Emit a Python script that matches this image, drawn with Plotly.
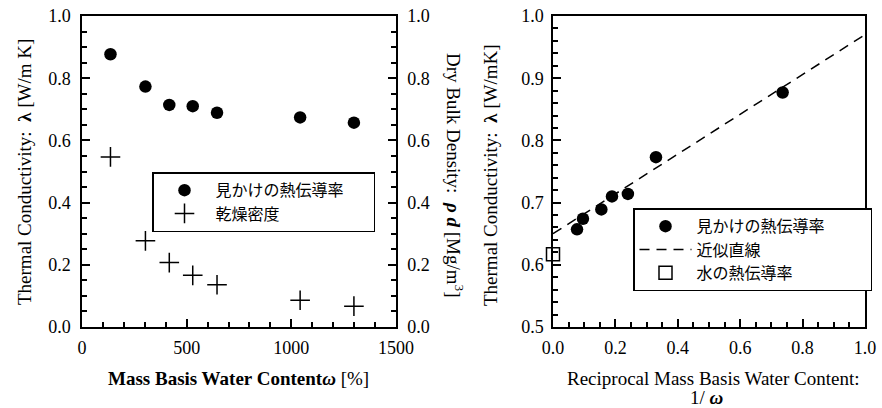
import plotly.graph_objects as go

# ---- data ----
water_content = [136, 303, 417, 529, 645, 1042, 1299]          # ω [%]
conductivity = [0.877, 0.773, 0.714, 0.710, 0.689, 0.674, 0.657]  # λ [W/mK]
dry_density = [0.547, 0.277, 0.207, 0.166, 0.136, 0.086, 0.067]   # ρd [Mg/m3]
recip_wc = [0.736, 0.330, 0.240, 0.189, 0.155, 0.096, 0.077]      # 1/ω
fit_x = [0.0, 1.0]
fit_y = [0.650, 0.970]
water_x = [0.0]
water_y = [0.617]

W, H = 882, 408
def px(x): return x / W
def py(y): return 1 - y / H

serif = "Liberation Serif"
cjk = "Noto Sans CJK JP"

def lg(text, pad=0):
    return '<span style="font-size:16px">' + text + "\u2002" * pad + "</span>"

fig = go.Figure()

fig.add_trace(go.Scatter(x=water_content, y=conductivity, mode="markers", name=lg("見かけの熱伝導率", 3),
                         marker=dict(symbol="circle", size=12.5, color="black"),
                         xaxis="x", yaxis="y", legend="legend"))
fig.add_trace(go.Scatter(x=water_content, y=dry_density, mode="markers", name=lg("乾燥密度"),
                         marker=dict(symbol="cross-thin", size=14, color="black",
                                     line=dict(color="black", width=1.5)),
                         xaxis="x", yaxis="y2", legend="legend"))

fig.add_trace(go.Scatter(x=recip_wc, y=conductivity, mode="markers", name=lg("見かけの熱伝導率", 5),
                         marker=dict(symbol="circle", size=12.5, color="black"),
                         xaxis="x2", yaxis="y3", legend="legend2"))
fig.add_trace(go.Scatter(x=fit_x, y=fit_y, mode="lines", name=lg("近似直線"),
                         line=dict(color="black", width=1.5, dash="10px,7px"),
                         xaxis="x2", yaxis="y3", legend="legend2"))
fig.add_trace(go.Scatter(x=water_x, y=water_y, mode="markers", name=lg("水の熱伝導率"),
                         marker=dict(symbol="square-open", size=13, color="black",
                                     line=dict(color="black", width=1.5)),
                         cliponaxis=False,
                         xaxis="x2", yaxis="y3", legend="legend2"))

tickfont = dict(family=serif, size=18, color="black")
common = dict(showgrid=False, zeroline=False, showline=True, linecolor="black", linewidth=1.5,
              ticks="inside", tickcolor="black", tickwidth=1.5, ticklen=8,
              tickfont=tickfont, automargin=False)
minor_common = dict(ticks="inside", ticklen=5, tickcolor="black", tickwidth=1.5)

ydom = [py(327), py(16)]
legend_common = dict(xanchor="left", yanchor="top", bordercolor="black", borderwidth=1.5,
                     bgcolor="white", font=dict(family=cjk, size=15.6, color="black"),
                     itemwidth=52, tracegroupgap=0)
fig.update_layout(
    width=W, height=H, margin=dict(l=0, r=0, t=0, b=0),
    paper_bgcolor="white", plot_bgcolor="white", showlegend=True,
    xaxis=dict(domain=[px(82), px(396)], range=[0, 1500], dtick=500, mirror=True,
               ticklabelstandoff=4,
               minor=dict(dtick=100, **minor_common), anchor="y", **common),
    yaxis=dict(domain=ydom, range=[0, 1], dtick=0.2, tickformat=".1f", mirror=True,
               ticklabelstandoff=6,
               minor=dict(dtick=0.05, **minor_common), anchor="x", **common),
    yaxis2=dict(range=[0, 1], dtick=0.2, tickformat=".1f", overlaying="y", side="right",
                ticklabelstandoff=6,
                minor=dict(dtick=0.05, **minor_common), anchor="x", **common),
    xaxis2=dict(domain=[px(553), px(865)], range=[0, 1], dtick=0.2, tickformat=".1f", mirror=True,
                ticklabelstandoff=4,
                minor=dict(dtick=0.05, **minor_common), anchor="y3", **common),
    yaxis3=dict(domain=ydom, range=[0.5, 1.0], dtick=0.1, tickformat=".1f", mirror=True,
                ticklabelstandoff=4,
                minor=dict(dtick=0.02, **minor_common), anchor="x2", **common),
    legend=dict(x=px(152), y=py(172), **legend_common),
    legend2=dict(x=px(633), y=py(208), **legend_common),
)

tf = dict(family=serif, size=19, color="black")
ann = [
    dict(x=px(24), y=py(172), text="Thermal Conductivity:  <b>λ</b> [W/m K]", textangle=-90),
    dict(x=px(455), y=py(175), text="Dry Bulk Density:  <b><i>ρ d</i></b> [Mg/m<sup>3</sup>]", textangle=90),
    dict(x=px(238), y=py(378), text="<b>Mass Basis Water Content<i>ω</i></b> [%]"),
    dict(x=px(490), y=py(175), text="Thermal Conductivity:  <b>λ</b> [W/mK]", textangle=-90),
    dict(x=px(713), y=py(378), text="Reciprocal Mass Basis Water Content:"),
    dict(x=px(707), y=py(397), text="1/ <b><i>ω</i></b>"),
]
for a in ann:
    fig.add_annotation(xref="paper", yref="paper", showarrow=False, font=tf,
                       xanchor="center", yanchor="middle", **a)

fig.write_html("out.html", config={"displayModeBar": False},
               post_script="document.body.style.margin='0px';")
